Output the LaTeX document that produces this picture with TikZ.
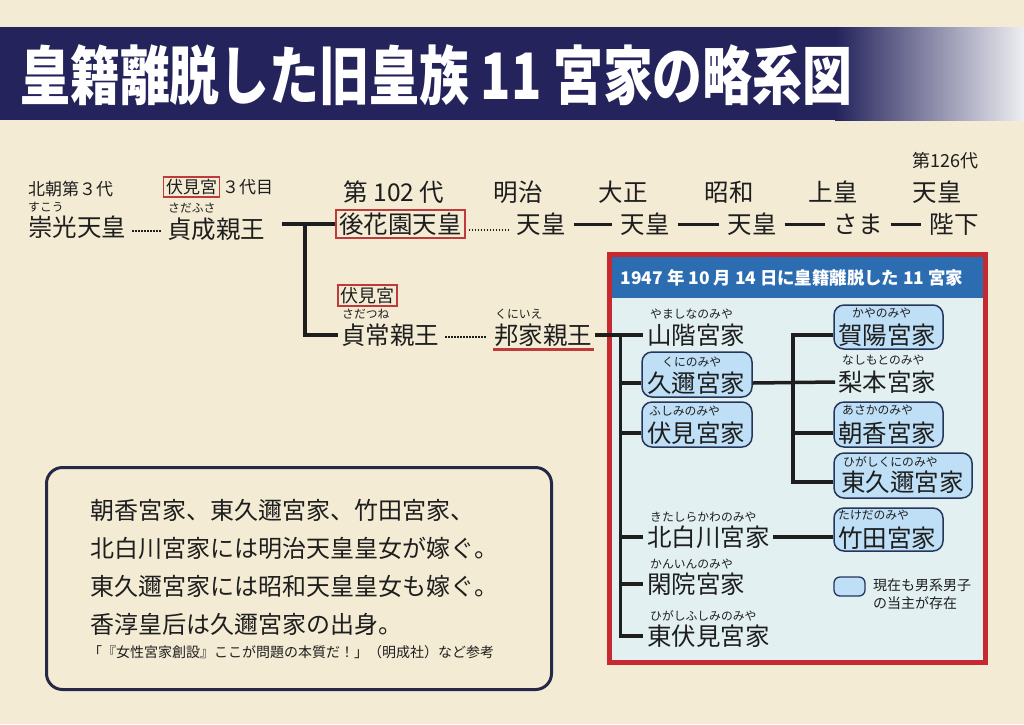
\documentclass[tikz,border=0pt]{standalone}
\usepackage{fontspec}
\setmainfont{Noto Sans CJK JP}
\newfontfamily\titlefont{Noto Sans CJK JP}[FakeStretch=0.78]
\usetikzlibrary{calc}
\definecolor{bg}{HTML}{F3EBD3}
\definecolor{ink}{HTML}{1E1E1E}
\definecolor{redline}{HTML}{C0393B}
\definecolor{frame}{HTML}{C62A30}
\definecolor{hdr}{HTML}{2C6DB1}
\definecolor{inner}{HTML}{E2F0F1}
\definecolor{hfill}{HTML}{BEDFF6}
\definecolor{navy}{HTML}{24365A}
\definecolor{boxnavy}{HTML}{262848}
\definecolor{band}{HTML}{24235C}
\newcommand\fsz[1]{\fontsize{#1}{#1}\selectfont}
\tikzset{
  base/.style={inner sep=0pt, text=ink},
  big/.style={base, font=\fsz{24.5}},
  mid/.style={base, font=\fsz{17}},
  rb/.style={base, font=\fsz{11.8}, anchor=west},
  redbox/.style={draw=redline, line width=1.8pt, inner sep=2.5pt},
  treeline/.style={draw=ink, line width=3.5pt},
  dotline/.style={draw=ink, line width=2.6pt, dash pattern=on 1.4pt off 1.6pt},
  solidlink/.style={draw=ink, line width=3pt, shorten <=8pt, shorten >=8pt},
  house/.style={draw=navy, fill=hfill, rounded corners=10pt, line width=1.5pt, inner sep=0pt},
  boxtext/.style={base, font=\fsz{24}, anchor=west},
}
\begin{document}
\begin{tikzpicture}[x=1pt,y=-1pt]
\useasboundingbox (0,0) rectangle (1024,724);
\fill[bg] (0,0) rectangle (1024,724);
% title band
\fill[band] (0,27) rectangle (835,120);
\shade[left color=band, right color=white!92!band] (835,27) rectangle (1024,120);
\node[anchor=west, inner sep=0pt, text=white, font=\titlefont\fsz{64}\bfseries] (title) at (20,75) {皇籍離脱した旧皇族 11 宮家の略系図};

% ---------- upper genealogy ----------
\node[mid, anchor=west] (l_hokucho) at (28,189) {北朝第３代};
\node[rb] (r_suko) at (28,207) {すこう};
\node[big, anchor=west] (t_suko) at (28,227) {崇光天皇};

\node[mid, redbox] (l_fushimi1) at (191.5,187) {伏見宮};
\node[mid, anchor=west] (l_3daime) at (222,187) {３代目};
\node[rb] (r_sadafusa) at (168,208) {さだふさ};
\node[big, anchor=west] (t_sadafusa) at (167,229) {貞成親王};

\draw[dotline] ($(t_suko.east)+(6,4)$) -- ($(t_sadafusa.west)+(-6,2)$);

\node[big] (l_102) at (394,192) {第 102 代};
\node[big, redbox, inner sep=3pt] (b_gohana) at (400.5,224) {後花園天皇};

\node[big] (l_meiji) at (518,192) {明治};
\node[big] (t_tenno1) at (541,224) {天皇};
\node[big] (l_taisho) at (623,192) {大正};
\node[big] (t_tenno2) at (645,224) {天皇};
\node[big] (l_showa) at (729,192) {昭和};
\node[big] (t_tenno3) at (752,224) {天皇};
\node[big] (l_jokou) at (833,192) {上皇};
\node[big] (t_sama) at (858,224) {さま};
\node[base, font=\fsz{18}] (l_126) at (945,161) {第126代};
\node[big] (l_tenno4) at (937,192) {天皇};
\node[big] (t_heika) at (954,224) {陛下};

\draw[dotline] ($(b_gohana.east)+(3,6)$) -- ($(t_tenno1.west)+(-7,6)$);
\draw[solidlink] (t_tenno1) -- (t_tenno2);
\draw[solidlink] (t_tenno2) -- (t_tenno3);
\draw[solidlink] (t_tenno3) -- (t_sama);
\draw[solidlink] (t_sama) -- (t_heika);

% T branch
\coordinate (tstart) at (282,224);
\coordinate (tbranch) at (305,224);
\node[base, font=\fsz{18}, redbox] (l_fushimi2) at (367.5,295.5) {伏見宮};
\node[rb] (r_sadatsune) at (342,314) {さだつね};
\node[big, anchor=west] (t_sadatsune) at (341,335) {貞常親王};
\draw[treeline] (tstart) -- (b_gohana.west);
\draw[treeline] (tbranch) |- ($(t_sadatsune.west)+(-3,0)$);

\node[rb] (r_kuniie) at (495,314) {くにいえ};
\node[big, anchor=west] (t_kuniie) at (494,335) {邦家親王};
\draw[dotline] ($(t_sadatsune.east)+(6,2)$) -- ($(t_kuniie.west)+(-7,2)$);
\draw[redline, line width=2.5pt] ($(t_kuniie.south west)+(-1,3)$) -- ($(t_kuniie.south east)+(2,3)$);

% ---------- right frame ----------
\draw[frame, line width=5pt, fill=inner] (609.5,254.5) rectangle (985.5,662.5);
\fill[hdr] (612,257) rectangle (983,298);
\node[inner sep=0pt, text=white, font=\fsz{17.4}\bfseries] (hdrtext) at (792,278) {1947 年 10 月 14 日に皇籍離脱した 11 宮家};

% left column
\node[rb] (r_yama) at (650,314) {やましなのみや};
\node[big, anchor=west] (t_yama) at (647,335) {山階宮家};

\node[house, minimum width=110pt, minimum height=45pt] (b_kuni) at (697,374.5) {};
\node[rb] (r_kuni) at (662,362) {くにのみや};
\node[big, anchor=west] (t_kuni) at (647,383) {久邇宮家};

\node[house, minimum width=110pt, minimum height=45pt] (b_fushimi) at (697,424.5) {};
\node[rb] (r_fushimi) at (649,411) {ふしみのみや};
\node[big, anchor=west] (t_fushimi) at (647,433) {伏見宮家};

\node[rb] (r_kitashira) at (650,517) {きたしらかわのみや};
\node[big, anchor=west] (t_kitashira) at (647,537) {北白川宮家};
\node[rb] (r_kanin) at (650,564) {かんいんのみや};
\node[big, anchor=west] (t_kanin) at (647,584) {閑院宮家};
\node[rb] (r_hf) at (650,616) {ひがしふしみのみや};
\node[big, anchor=west] (t_hf) at (647,636) {東伏見宮家};

% right column
\node[house, minimum width=109pt, minimum height=44pt] (b_kaya) at (888.5,327) {};
\node[rb] (r_kaya) at (852,313) {かやのみや};
\node[big, anchor=west] (t_kaya) at (838,335) {賀陽宮家};

\node[rb] (r_nashi) at (842,360) {なしもとのみや};
\node[big, anchor=west] (t_nashi) at (838,382) {梨本宮家};

\node[house, minimum width=109pt, minimum height=45pt] (b_asaka) at (888.5,424.5) {};
\node[rb] (r_asaka) at (842,410) {あさかのみや};
\node[big, anchor=west] (t_asaka) at (838,433) {朝香宮家};

\node[house, minimum width=138pt, minimum height=45pt] (b_hk) at (903,475.5) {};
\node[rb] (r_hk) at (843,462) {ひがしくにのみや};
\node[big, anchor=west] (t_hk) at (841,482) {東久邇宮家};

\node[house, minimum width=109pt, minimum height=43pt] (b_takeda) at (888.5,529.5) {};
\node[rb] (r_takeda) at (838,515) {たけだのみや};
\node[big, anchor=west] (t_takeda) at (838,538) {竹田宮家};

% legend
\node[house, rounded corners=6pt, line width=1.3pt, minimum width=31pt, minimum height=19pt] (legendbox) at (849.5,586.5) {};
\node[base, font=\fsz{14}, anchor=west] (leg1) at (873,585) {現在も男系男子};
\node[base, font=\fsz{14}, anchor=west] (leg2) at (873,603) {の当主が存在};

% left tree
\coordinate (ls) at (620.5,335);
\draw[treeline] ($(t_kuniie.east)+(3,0)$) -- ($(t_yama.west)+(-4,0)$);
\draw[treeline] (ls) |- ($(t_hf.west)+(-4,0)$);
\draw[treeline] (ls |- t_kuni) -- (b_kuni.west |- t_kuni);
\draw[treeline] (ls |- t_fushimi) -- (b_fushimi.west |- t_fushimi);
\draw[treeline] (ls |- t_kitashira) -- ($(t_kitashira.west)+(-4,0)$);
\draw[treeline] (ls |- t_kanin) -- ($(t_kanin.west)+(-4,0)$);

% right tree
\coordinate (rs) at (793,400);
\draw[treeline] (b_kaya.west |- t_kaya) -| (rs) |- (b_hk.west |- t_hk);
\draw[treeline] (b_kuni.east |- t_kuni) -- ($(t_nashi.west)+(-3,0)$);
\draw[treeline] (rs |- t_asaka) -- (b_asaka.west |- t_asaka);
\draw[treeline] ($(t_kitashira.east)+(3,0)$) -- (b_takeda.west |- t_kitashira);

% ---------- bottom-left note ----------
\draw[draw=boxnavy, line width=3pt, rounded corners=16pt] (46.5,467.5) rectangle (551.5,689.5);
\node[boxtext] (n1) at (90,510) {朝香宮家、東久邇宮家、竹田宮家、};
\node[boxtext] (n2) at (90,548) {北白川宮家には明治天皇皇女が嫁ぐ。};
\node[boxtext] (n3) at (90,586) {東久邇宮家には昭和天皇皇女も嫁ぐ。};
\node[boxtext] (n4) at (90,624) {香淳皇后は久邇宮家の出身。};
\node[base, font=\fsz{14}, anchor=west] (n5) at (88,652) {「『女性宮家創設』ここが問題の本質だ！」（明成社）など参考};
\end{tikzpicture}
\end{document}
